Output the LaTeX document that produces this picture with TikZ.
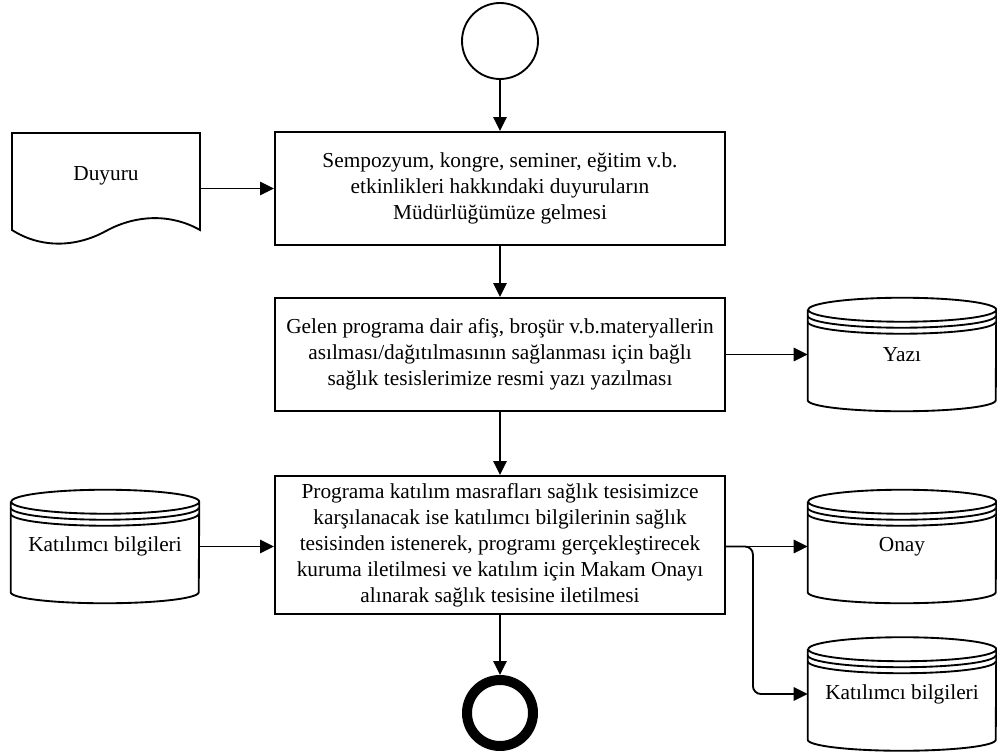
\documentclass[tikz,border=0pt]{standalone}
\usepackage{fontspec}
\setmainfont{Liberation Serif}
\usetikzlibrary{arrows.meta}

% data store: cylinder with two extra rims under the lid
\newcommand\storeshape[1]{%
  \draw[ln] ([yshift=-9pt]#1.north west) -- ([yshift=8.25pt]#1.south west)
    arc[start angle=180,end angle=360,x radius=70.5pt,y radius=8.25pt]
    -- ([yshift=-9pt]#1.north east)
    arc[start angle=0,end angle=360,x radius=70.5pt,y radius=9pt];
  \draw[ln] ([yshift=-13.5pt]#1.north west)
    arc[start angle=180,end angle=360,x radius=70.5pt,y radius=9pt];
  \draw[ln] ([yshift=-18pt]#1.north west)
    arc[start angle=180,end angle=360,x radius=70.5pt,y radius=9pt];
}

\begin{document}
\begin{tikzpicture}[x=0.75pt,y=-0.75pt,
  ln/.style={line width=1.4pt},
  flow/.style={ln,-{Triangle[length=10.5pt,width=10pt]}},
  txt/.style={font=\fontsize{16}{19.5}\selectfont,align=center},
  task/.style={txt,draw,ln,rectangle,minimum width=337.5pt,inner sep=0pt},
  store/.style={txt,rectangle,minimum width=141pt,minimum height=84.75pt,inner sep=0pt}]

\useasboundingbox (0,0) rectangle (997,756);

% start and end events
\node[draw,ln,circle,minimum size=57pt,inner sep=0pt] (start) at (500,41) {};
\node[draw,line width=7.5pt,circle,minimum size=49.5pt,inner sep=0pt] (finish) at (500,713) {};

% process steps
\node[task,minimum height=84.75pt] (box1) at (500,188.5)
  {Sempozyum, kongre, seminer, eğitim v.b.\\etkinlikleri hakkındaki duyuruların\\Müdürlüğümüze gelmesi};
\node[task,minimum height=84.75pt] (box2) at (500,354.5)
  {Gelen programa dair afiş, broşür v.b.materyallerin\\asılması/dağıtılmasının sağlanması için bağlı\\sağlık tesislerimize resmi yazı yazılması};
\node[task,minimum height=103.5pt] (box3) at (500,545)
  {Programa katılım masrafları sağlık tesisimizce\\karşılanacak ise katılımcı bilgilerinin sağlık\\tesisinden istenerek, programı gerçekleştirecek\\kuruma iletilmesi ve katılım için Makam Onayı\\alınarak sağlık tesisine iletilmesi};

% document
\draw[ln] (12,133) -- (200,133) -- (200,230)
  .. controls (172,214) and (137,214) .. (106,231)
  .. controls (75,248) and (40,248) .. (12,230) -- cycle;
\node[txt,minimum width=141pt,inner sep=0pt] (duyuru) at (106,176) {Duyuru};

% data stores
\node[store] (katl) at (105,546.5) {Katılımcı bilgileri};
\node[store] (yazi) at (902,354.5) {Yazı};
\node[store] (onay) at (902,546.5) {Onay};
\node[store] (katr) at (902,694) {Katılımcı bilgileri};
\storeshape{katl}
\storeshape{yazi}
\storeshape{onay}
\storeshape{katr}

% connectors
\draw[flow] (start) -- (box1);
\draw[flow] (box1) -- (box2);
\draw[flow] (box2) -- (box3);
\draw[flow] (box3) -- (finish);
\draw[flow] (duyuru.east |- box1.west) -- (box1.west);
\draw[flow] (box2.east) -- (yazi.west);
\draw[flow] (katl.east) -- (katl.east -| box3.west);
\draw[flow] (box3.east |- onay.west) -- (onay.west);
\draw[flow,rounded corners=6pt] (box3.east |- onay.west) -- ++(27,0) |- (katr.west);
\end{tikzpicture}
\end{document}
